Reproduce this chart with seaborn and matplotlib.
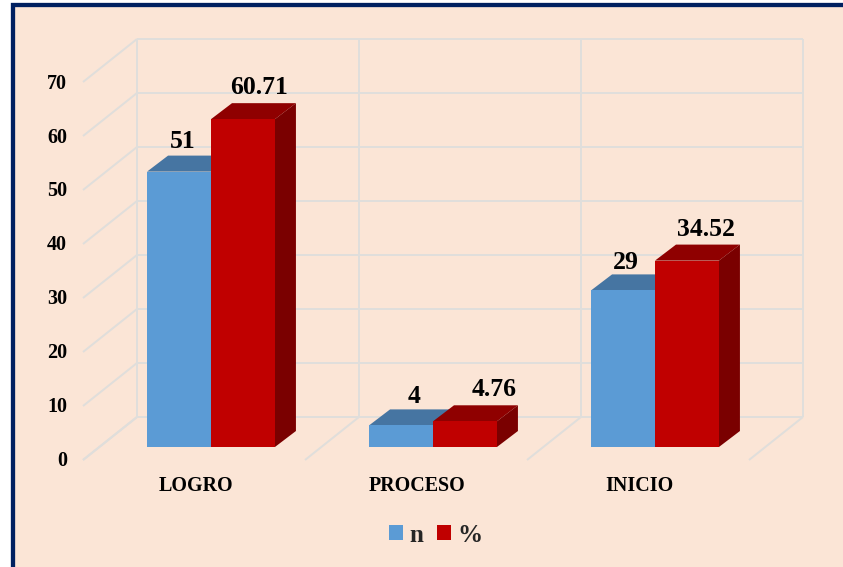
import matplotlib
matplotlib.use("Agg")
import matplotlib.pyplot as plt
from matplotlib.patches import Polygon, Rectangle
from matplotlib.lines import Line2D
from matplotlib.transforms import Affine2D, IdentityTransform
import pandas as pd
import seaborn as sns

# ---- data ----
categories = ["LOGRO", "PROCESO", "INICIO"]
n_values = [51, 4, 29]
pct_values = [60.71, 4.76, 34.52]
n_labels = ["51", "4", "29"]
pct_labels = ["60.71", "4.76", "34.52"]
y_ticks = [0, 10, 20, 30, 40, 50, 60, 70]
series_names = ["n", "%"]

# ---- style ----
BG = "#FBE5D6"
NAVY = "#002060"
GRID = "#E0DEDB"
FRONT = ["#5B9BD5", "#C00000"]
TOP = ["#4675A2", "#8F0000"]
SIDE = ["#3F6A93", "#7A0000"]
W, H = 843, 567
DEPTH = (21, 16)          # extrusion of a bar, px
WALL_FRONT = (-17, -13)   # front of the floor relative to the bar plane, px
WALL_BACK = (37, 30)      # back wall relative to the bar plane, px
N_SHIFT = [(4, 24), (13, 22), (3, 21)]      # label baseline offsets from bar top centre
PCT_SHIFT = [(16, 25), (29, 25), (19, 25)]

sns.set_style("white")
plt.rcParams["font.family"] = ["Liberation Serif", "DejaVu Serif"]
plt.rcParams["font.weight"] = "bold"

fig = plt.figure(figsize=(W / 100, H / 100), dpi=100, facecolor="white")
fig.add_artist(Rectangle((13, -20), W + 40, H + 20 - 5, transform=IdentityTransform(),
                         facecolor=BG, edgecolor=NAVY, linewidth=4.3 * 0.72, zorder=-1))
ax = fig.add_axes([100 / W, 1 - 447 / H, 666 / W, 378 / H])
ax.patch.set_alpha(0)

df = pd.DataFrame({
    "cat": categories * 2,
    "val": n_values + pct_values,
    "serie": [series_names[0]] * 3 + [series_names[1]] * 3,
})
sns.barplot(data=df, x="cat", y="val", hue="serie", hue_order=series_names,
            palette=FRONT, saturation=1, width=0.576, gap=0, dodge=True, ax=ax, zorder=5,
            linewidth=0)
ax.set_xlim(-0.5, 2.5)
ax.set_ylim(0, 70)
ax.set_xlabel("")
ax.set_ylabel("")
sns.despine(ax=ax, left=True, bottom=True)


def to_px(x, v):
    return ax.transData.transform((x, v))


# 3-D style wall grid
dividers = [i - 0.5 for i in range(len(categories) + 1)]
lw = 2 * 0.72


def px_line(p, q):
    ax.add_artist(Line2D([p[0], q[0]], [p[1], q[1]], color=GRID, lw=lw, zorder=1,
                         transform=IdentityTransform(), clip_on=False,
                         solid_capstyle="butt"))


for v in y_ticks:
    a = to_px(dividers[0], v) + WALL_BACK
    b = to_px(dividers[-1], v) + WALL_BACK
    px_line(a, b)
    px_line(to_px(dividers[0], v) + WALL_FRONT, a)
for d in dividers:
    px_line(to_px(d, 0) + WALL_BACK, to_px(d, y_ticks[-1]) + WALL_BACK)
    px_line(to_px(d, 0) + WALL_FRONT, to_px(d, 0) + WALL_BACK)

# extruded faces and value labels
texts = [n_labels, pct_labels]
shifts = [N_SHIFT, PCT_SHIFT]
for s, cont in enumerate(ax.containers):
    for i, bar in enumerate(cont):
        x0, x1 = bar.get_x(), bar.get_x() + bar.get_width()
        h = bar.get_height()
        tl, tr, br = to_px(x0, h), to_px(x1, h), to_px(x1, 0)
        dx, dy = DEPTH
        top = [tl, tr, tr + (dx, dy), tl + (dx, dy)]
        side = [br, tr, tr + (dx, dy), br + (dx, dy)]
        ax.add_patch(Polygon(top, closed=True, facecolor=TOP[s], edgecolor="none",
                             transform=IdentityTransform(), clip_on=False, zorder=3 + s * 0.5))
        ax.add_patch(Polygon(side, closed=True, facecolor=SIDE[s], edgecolor="none",
                             transform=IdentityTransform(), clip_on=False, zorder=3 + s * 0.5))
        ax.annotate(texts[s][i], xy=((x0 + x1) / 2, h), xycoords="data",
                    xytext=shifts[s][i], textcoords="offset pixels",
                    ha="center", va="baseline", fontsize=18.5, fontweight="bold",
                    color="black", zorder=8, annotation_clip=False)

# ticks
ax.set_yticks(y_ticks, [str(v) for v in y_ticks])
ax.tick_params(axis="y", length=0, pad=33 * 0.72, labelsize=14.5, labelcolor="black")
ax.tick_params(axis="x", length=0, pad=20.8, labelsize=14.4, labelcolor="black")
for lab in ax.get_yticklabels():
    lab.set_transform(lab.get_transform() + Affine2D().translate(0, -12))
    lab.set_fontweight("bold")
for lab in ax.get_xticklabels():
    lab.set_transform(lab.get_transform() + Affine2D().translate(-15.5, 0))
    lab.set_fontweight("bold")

# legend
handles, labels = ax.get_legend_handles_labels()
for hd in handles:
    hd.set_linewidth(0)
ax.legend(handles, labels, ncol=2, frameon=False, loc="center",
          bbox_to_anchor=(436 / W, 1 - 535 / H), bbox_transform=fig.transFigure,
          prop={"family": "Liberation Serif", "weight": "bold", "size": 18},
          handlelength=0.56, handleheight=0.56, handletextpad=0.25, columnspacing=0.55,
          borderpad=0, borderaxespad=0)

fig.savefig("out.png", dpi=100, facecolor="white")
